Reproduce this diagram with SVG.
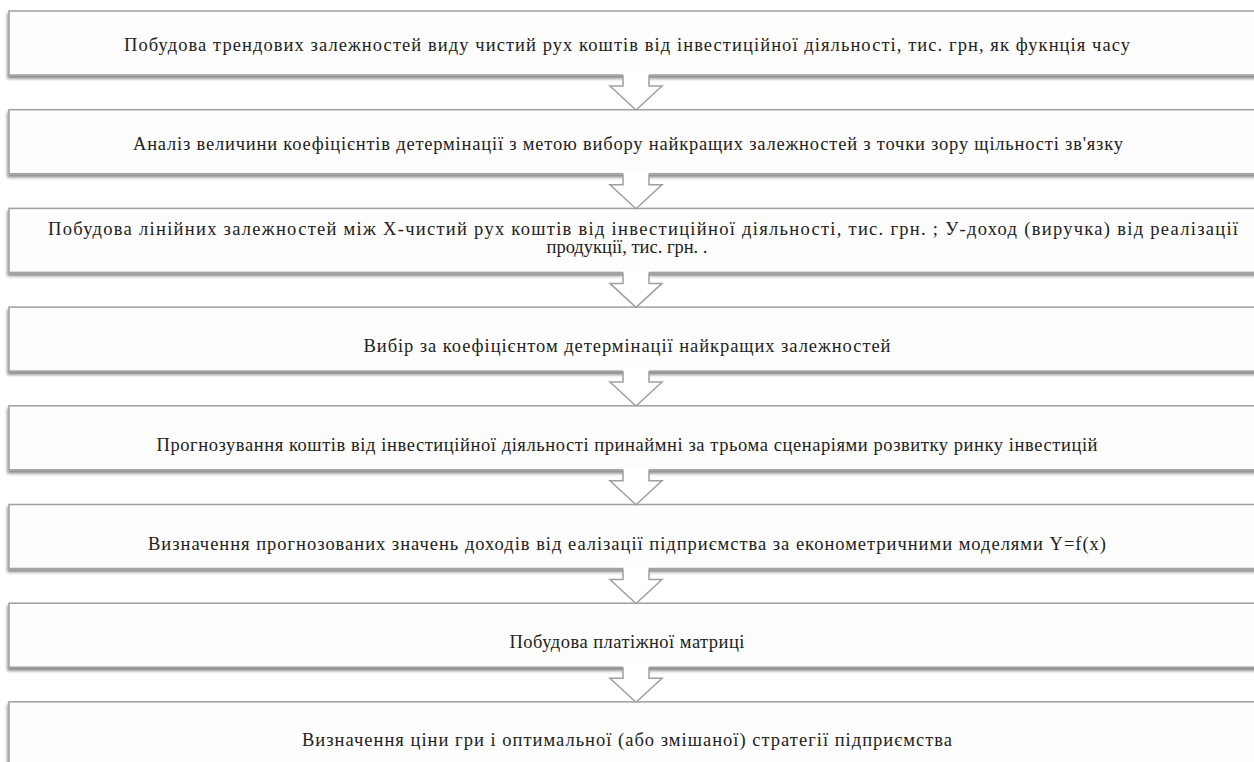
<svg xmlns="http://www.w3.org/2000/svg" width="1254" height="762" viewBox="0 0 1254 762">
<defs>
<filter id="sh" x="-5%" y="-20%" width="110%" height="160%">
<feDropShadow dx="-1" dy="3" stdDeviation="1.6" flood-color="#000" flood-opacity="0.45"/>
</filter>
<style>
.box{fill:#fdfdfd;stroke:#a0a0a0;stroke-width:1.5;filter:url(#sh)}
.t{font-family:"Liberation Serif","Times New Roman",serif;font-size:18.5px;fill:#222;text-anchor:middle}
.af{fill:#ffffff;stroke:none}
.as{fill:none;stroke:#a0a0a0;stroke-width:1.5;stroke-linejoin:miter}
</style>
<g id="arrow">
<polygon class="af" points="623,72 649,72 649,86 662,86 636,110 610,86 623,86"/>
<polyline class="as" points="623,75 623,86 610,86 636,110 662,86 649,86 649,75"/>
</g>
</defs>
<g id="node1"><rect class="box" x="9" y="11" width="1270" height="64"/>
<text class="t" x="627" y="51" textLength="1006" lengthAdjust="spacing">Побудова трендових залежностей виду чистий рух коштів від інвестиційної діяльності, тис. грн, як фукнція часу</text></g>
<g id="node2"><rect class="box" x="9" y="109.7" width="1270" height="64"/>
<text class="t" x="628" y="149.7" textLength="990" lengthAdjust="spacing">Аналіз величини коефіцієнтів детермінації з метою вибору найкращих залежностей з точки зору щільності зв'язку</text></g>
<g id="node3"><rect class="box" x="9" y="208.4" width="1270" height="64"/>
<text class="t" x="643" y="235" textLength="1190" lengthAdjust="spacing">Побудова лінійних залежностей між Х-чистий рух коштів від інвестиційної діяльності, тис. грн. ; У-доход (виручка) від реалізації</text>
<text class="t" x="627" y="253">продукції, тис. грн. .</text></g>
<g id="node4"><rect class="box" x="9" y="307.1" width="1270" height="64"/>
<text class="t" x="627" y="352" textLength="527" lengthAdjust="spacing">Вибір за коефіцієнтом детермінації найкращих залежностей</text></g>
<g id="node5"><rect class="box" x="9" y="405.8" width="1270" height="64"/>
<text class="t" x="627" y="451" textLength="941" lengthAdjust="spacing">Прогнозування коштів від інвестиційної діяльності принаймні за трьома сценаріями розвитку ринку інвестицій</text></g>
<g id="node6"><rect class="box" x="9" y="504.5" width="1270" height="64"/>
<text class="t" x="627" y="550" textLength="958" lengthAdjust="spacing">Визначення прогнозованих значень доходів від еалізації підприємства за економетричними моделями Y=f(x)</text></g>
<g id="node7"><rect class="box" x="9" y="603.2" width="1270" height="64"/>
<text class="t" x="627" y="648" textLength="235" lengthAdjust="spacing">Побудова платіжної матриці</text></g>
<g id="node8"><rect class="box" x="9" y="701.9" width="1270" height="64"/>
<text class="t" x="627" y="746" textLength="650" lengthAdjust="spacing">Визначення ціни гри і оптимальної (або змішаної) стратегії підприємства</text></g>
<g id="connectors">
<use href="#arrow" transform="translate(0,0)"/>
<use href="#arrow" transform="translate(0,98.7)"/>
<use href="#arrow" transform="translate(0,197.4)"/>
<use href="#arrow" transform="translate(0,296.1)"/>
<use href="#arrow" transform="translate(0,394.8)"/>
<use href="#arrow" transform="translate(0,493.5)"/>
<use href="#arrow" transform="translate(0,592.2)"/>
</g>
</svg>
